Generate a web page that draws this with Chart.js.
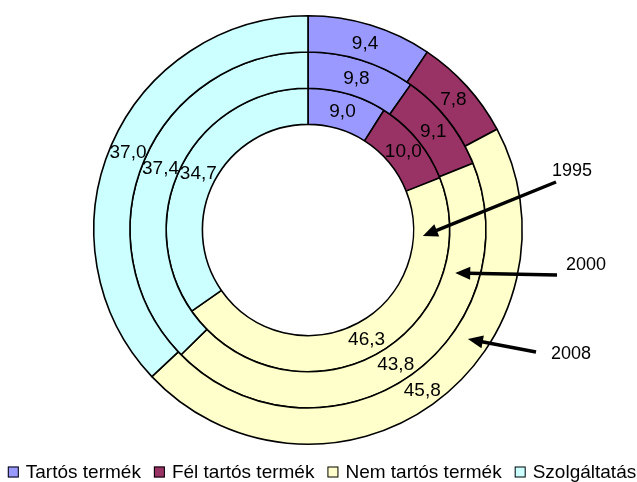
<!DOCTYPE html>
<html>
<head>
<meta charset="utf-8">
<script src="https://cdn.jsdelivr.net/npm/chart.js@4/dist/chart.umd.min.js"></script>
<style>
  html, body { margin: 0; padding: 0; background: #ffffff; }
  #wrap { width: 637px; height: 482px; position: relative; }
</style>
</head>
<body>
<div id="wrap"><canvas id="c" width="637" height="482"></canvas></div>
<script>
// ---- data ----
const categories = ['Tartós termék', 'Fél tartós termék', 'Nem tartós termék', 'Szolgáltatás'];
const years = ['2008', '2000', '1995']; // outer ring to inner ring
const values2008 = [9.4, 7.8, 45.8, 37.0];
const values2000 = [9.8, 9.1, 43.8, 37.4];
const values1995 = [9.0, 10.0, 46.3, 34.7];
const colors = ['#9999FF', '#993366', '#FFFFCC', '#CCFFFF'];

const FONT = '"Liberation Sans", Arial, Helvetica, sans-serif';

function fmt(v) { return v.toFixed(1).replace('.', ','); }

// data labels at the centre of each arc
const labelPlugin = {
  id: 'arcLabels',
  afterDatasetsDraw(chart) {
    const ctx = chart.ctx;
    ctx.save();
    ctx.font = '19px ' + FONT;
    ctx.fillStyle = '#000';
    ctx.textAlign = 'center';
    ctx.textBaseline = 'middle';
    chart.data.datasets.forEach((ds, di) => {
      const meta = chart.getDatasetMeta(di);
      meta.data.forEach((arc, i) => {
        const p = arc.getProps(['x', 'y', 'startAngle', 'endAngle', 'innerRadius', 'outerRadius'], true);
        const a = (p.startAngle + p.endAngle) / 2;
        const r = (p.innerRadius + p.outerRadius) / 2;
        ctx.fillText(fmt(ds.data[i]), p.x + r * Math.cos(a), p.y + r * Math.sin(a) + 1);
      });
    });
    ctx.restore();
  }
};

// year callouts: arrow tip placed on the ring of that year
const callouts = [
  { year: '1995', ds: 2, angleDeg: 93, frac: 0.26, tail: [556, 182], text: [572, 171] },
  { year: '2000', ds: 1, angleDeg: 106.3, frac: 0.32, tail: [557, 275], text: [586, 265] },
  { year: '2008', ds: 0, angleDeg: 124.3, frac: 0.43, tail: [536, 352], text: [571, 354] }
];

const calloutPlugin = {
  id: 'callouts',
  afterDraw(chart) {
    const ctx = chart.ctx;
    ctx.save();
    callouts.forEach(c => {
      const arc = chart.getDatasetMeta(c.ds).data[0];
      const p = arc.getProps(['x', 'y', 'innerRadius', 'outerRadius'], true);
      const a = (c.angleDeg - 90) * Math.PI / 180;
      const r = p.innerRadius + c.frac * (p.outerRadius - p.innerRadius);
      const tx = p.x + r * Math.cos(a), ty = p.y + r * Math.sin(a);
      const [sx, sy] = c.tail;
      const ang = Math.atan2(ty - sy, tx - sx);
      const headLen = 15, headHalf = 6.5;
      const bx = tx - headLen * Math.cos(ang), by = ty - headLen * Math.sin(ang);
      ctx.strokeStyle = '#000';
      ctx.lineWidth = 3.5;
      ctx.beginPath();
      ctx.moveTo(sx, sy);
      ctx.lineTo(bx + 2 * Math.cos(ang), by + 2 * Math.sin(ang));
      ctx.stroke();
      ctx.fillStyle = '#000';
      ctx.beginPath();
      ctx.moveTo(tx, ty);
      ctx.lineTo(bx + headHalf * Math.sin(ang), by - headHalf * Math.cos(ang));
      ctx.lineTo(bx - headHalf * Math.sin(ang), by + headHalf * Math.cos(ang));
      ctx.closePath();
      ctx.fill();
      ctx.font = '18px ' + FONT;
      ctx.textAlign = 'center';
      ctx.textBaseline = 'middle';
      ctx.fillText(c.year, c.text[0], c.text[1]);
    });
    ctx.restore();
  }
};

// legend drawn in one row under the chart
const legendPlugin = {
  id: 'rowLegend',
  afterDraw(chart) {
    const ctx = chart.ctx;
    ctx.save();
    ctx.font = '19px ' + FONT;
    ctx.textBaseline = 'middle';
    ctx.textAlign = 'left';
    const box = 11, gapText = 7, gapItem = 13;
    const widths = chart.data.labels.map(t => ctx.measureText(t).width);
    const total = widths.reduce((s, w) => s + box + gapText + w, 0) + gapItem * (widths.length - 1);
    let x = 322 - total / 2;
    const y = 472;
    chart.data.labels.forEach((t, i) => {
      ctx.fillStyle = chart.data.datasets[0].backgroundColor[i];
      ctx.fillRect(x, y - box / 2, box, box);
      ctx.strokeStyle = '#000';
      ctx.lineWidth = 1;
      ctx.strokeRect(x + 0.5, y - box / 2 + 0.5, box - 1, box - 1);
      x += box + gapText;
      ctx.fillStyle = '#000';
      ctx.fillText(t, x, y + 1);
      x += widths[i] + gapItem;
    });
    ctx.restore();
  }
};

const seriesList = [values2008, values2000, values1995];

new Chart(document.getElementById('c'), {
  type: 'doughnut',
  data: {
    labels: categories,
    datasets: seriesList.map((vals, k) => ({
      label: years[k],
      data: vals,
      backgroundColor: colors,
      borderColor: '#000000',
      borderWidth: 1.6,
      hoverOffset: 0
    }))
  },
  options: {
    responsive: false,
    animation: false,
    cutout: '49.3%',
    layout: { padding: { top: 15, bottom: 37, left: 0, right: 21 } },
    plugins: {
      legend: { display: false },
      tooltip: { enabled: false }
    }
  },
  plugins: [labelPlugin, calloutPlugin, legendPlugin]
});
</script>
</body>
</html>
